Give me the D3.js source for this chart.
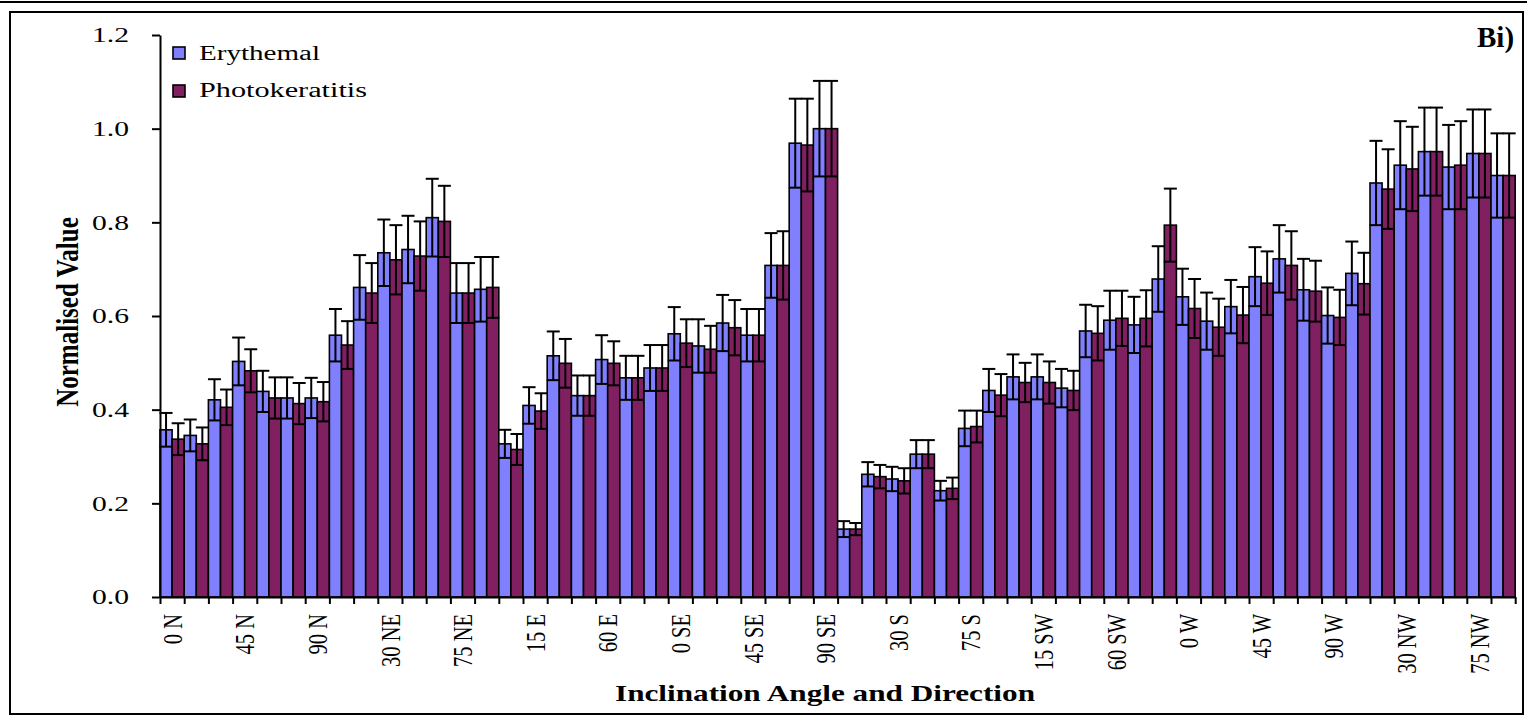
<!DOCTYPE html>
<html>
<head>
<meta charset="utf-8">
<script src="https://cdn.jsdelivr.net/npm/d3@7"></script>
<style>
  html, body { margin: 0; padding: 0; background: #fff; }
  svg { display: block; }
  svg text { font-family: 'Liberation Serif', 'Times New Roman', Times, serif; fill: #000; }
</style>
</head>
<body>
<svg id="chart" width="1527" height="720"></svg>
<script>
'use strict';

// categories: inclination angle x direction
var angles = [0, 15, 30, 45, 60, 75, 90];
var directions = ['N', 'NE', 'E', 'SE', 'S', 'SW', 'W', 'NW'];
var tickLabels = ['0 N', '45 N', '90 N', '30 NE', '75 NE', '15 E', '60 E', '0 SE', '45 SE', '90 SE',
  '30 S', '75 S', '15 SW', '60 SW', '0 W', '45 W', '90 W', '30 NW', '75 NW'];
var seriesNames = ['Erythemal', 'Photokeratitis'];
var yTicks = [0, 0.2, 0.4, 0.6, 0.8, 1.0, 1.2];

var erythemal = [
  0.357, 0.345, 0.421, 0.503, 0.439, 0.425, 0.425,
  0.559, 0.661, 0.735, 0.742, 0.810, 0.649, 0.657,
  0.327, 0.409, 0.515, 0.430, 0.507, 0.468, 0.489,
  0.562, 0.536, 0.585, 0.559, 0.708, 0.969, 1.000,
  0.145, 0.262, 0.252, 0.305, 0.227, 0.360, 0.441,
  0.470, 0.470, 0.446, 0.568, 0.591, 0.581, 0.679,
  0.641, 0.589, 0.620, 0.684, 0.722, 0.656, 0.601,
  0.691, 0.884, 0.922, 0.951, 0.918, 0.947, 0.900
];
var erythemalErr = [
  0.036, 0.034, 0.044, 0.051, 0.044, 0.044, 0.043,
  0.056, 0.069, 0.071, 0.072, 0.083, 0.064, 0.069,
  0.030, 0.039, 0.052, 0.043, 0.052, 0.047, 0.049,
  0.057, 0.057, 0.060, 0.056, 0.069, 0.095, 0.102,
  0.017, 0.026, 0.026, 0.030, 0.021, 0.038, 0.046,
  0.048, 0.048, 0.041, 0.056, 0.063, 0.060, 0.070,
  0.060, 0.061, 0.057, 0.063, 0.072, 0.066, 0.060,
  0.068, 0.090, 0.094, 0.094, 0.090, 0.094, 0.090
];
var photokeratitis = [
  0.337, 0.327, 0.405, 0.483, 0.425, 0.413, 0.417,
  0.538, 0.649, 0.720, 0.728, 0.802, 0.649, 0.661,
  0.315, 0.397, 0.499, 0.430, 0.499, 0.468, 0.489,
  0.542, 0.529, 0.575, 0.559, 0.708, 0.965, 1.000,
  0.145, 0.257, 0.248, 0.305, 0.232, 0.364, 0.431,
  0.458, 0.458, 0.441, 0.563, 0.595, 0.595, 0.794,
  0.616, 0.576, 0.602, 0.670, 0.708, 0.653, 0.597,
  0.669, 0.871, 0.914, 0.951, 0.922, 0.947, 0.900
];
var photokeratitisErr = [
  0.034, 0.035, 0.038, 0.046, 0.044, 0.044, 0.042,
  0.051, 0.064, 0.074, 0.074, 0.076, 0.064, 0.065,
  0.033, 0.038, 0.052, 0.043, 0.047, 0.047, 0.049,
  0.051, 0.050, 0.059, 0.056, 0.073, 0.099, 0.102,
  0.013, 0.025, 0.027, 0.030, 0.023, 0.034, 0.045,
  0.042, 0.045, 0.042, 0.058, 0.059, 0.060, 0.078,
  0.063, 0.061, 0.060, 0.068, 0.073, 0.065, 0.059,
  0.066, 0.085, 0.090, 0.094, 0.094, 0.094, 0.090
];

var categories = [];
directions.forEach(function(d) {
  angles.forEach(function(a) { categories.push(a + ' ' + d); });
});

var fontFamily = "'Liberation Serif', 'Times New Roman', Times, serif";
var colors = {Erythemal: '#8080ff', Photokeratitis: '#802060'};
var plot = {left: 160, right: 1515.2, top: 35, bottom: 597};
var stretch = 1.35; // the original picture is widened horizontally

var svg = d3.select('#chart').attr('font-family', fontFamily);

// frame
svg.append('line').attr('x1', 0).attr('x2', 1527).attr('y1', 2).attr('y2', 2)
  .attr('stroke', '#000').attr('stroke-width', 2);
svg.append('rect').attr('x', 10).attr('y', 12).attr('width', 1513).attr('height', 702)
  .attr('fill', 'none').attr('stroke', '#000').attr('stroke-width', 2);

// scales
var x = d3.scaleBand().domain(categories).range([plot.left, plot.right]).padding(0);
var xs = d3.scaleBand().domain(seriesNames).range([0, x.bandwidth()]);
var xi = d3.scaleLinear().domain([0, categories.length]).range([plot.left, plot.right]);
var y = d3.scaleLinear().domain([0, 1.2]).range([plot.bottom, plot.top]);

var rows = categories.map(function(c, i) {
  return {
    cat: c,
    values: [
      {s: 'Erythemal', v: erythemal[i], e: erythemalErr[i]},
      {s: 'Photokeratitis', v: photokeratitis[i], e: photokeratitisErr[i]}
    ]
  };
});

// bars
var groups = svg.append('g').selectAll('g')
  .data(rows)
  .enter().append('g')
    .attr('transform', function(d) { return 'translate(' + x(d.cat) + ',0)'; });

groups.selectAll('rect')
  .data(function(d) { return d.values; })
  .enter().append('rect')
    .attr('x', function(d) { return xs(d.s); })
    .attr('width', xs.bandwidth())
    .attr('y', function(d) { return y(d.v); })
    .attr('height', function(d) { return plot.bottom - y(d.v); })
    .attr('fill', function(d) { return colors[d.s]; })
    .attr('stroke', '#000')
    .attr('stroke-width', 1.6);

// error bars
var cap = 6.5;
var err = groups.selectAll('g.err')
  .data(function(d) { return d.values; })
  .enter().append('g')
    .attr('class', 'err')
    .attr('stroke', '#000')
    .attr('stroke-width', 2)
    .attr('transform', function(d) { return 'translate(' + (xs(d.s) + xs.bandwidth() / 2) + ',0)'; });
err.append('line')
  .attr('x1', 0).attr('x2', 0)
  .attr('y1', function(d) { return y(d.v - d.e); })
  .attr('y2', function(d) { return y(d.v + d.e); });
err.append('line')
  .attr('x1', -cap).attr('x2', cap)
  .attr('y1', function(d) { return y(d.v + d.e); })
  .attr('y2', function(d) { return y(d.v + d.e); });
err.append('line')
  .attr('x1', -cap).attr('x2', cap)
  .attr('y1', function(d) { return y(d.v - d.e); })
  .attr('y2', function(d) { return y(d.v - d.e); });

// y axis
var yAxis = svg.append('g')
  .attr('transform', 'translate(' + plot.left + ',0)')
  .call(d3.axisLeft(y).tickValues(yTicks).tickSize(8).tickSizeOuter(0).tickPadding(23)
    .tickFormat(d3.format('.1f')));
yAxis.attr('font-family', fontFamily);
yAxis.select('.domain').attr('stroke', '#000').attr('stroke-width', 2);
yAxis.selectAll('.tick line').attr('stroke', '#000').attr('stroke-width', 2);
yAxis.selectAll('.tick text')
  .attr('font-size', 20)
  .attr('fill', '#000')
  .attr('dy', '0.34em')
  .attr('textLength', 37)
  .attr('lengthAdjust', 'spacingAndGlyphs');

// x axis (ticks at category boundaries)
var xAxis = svg.append('g')
  .attr('transform', 'translate(0,' + plot.bottom + ')')
  .call(d3.axisBottom(xi).tickValues(d3.range(categories.length + 1)).tickSize(7)
    .tickSizeOuter(0).tickFormat(''));
xAxis.select('.domain').attr('stroke', '#000').attr('stroke-width', 2);
xAxis.selectAll('.tick line').attr('stroke', '#000').attr('stroke-width', 2);

// category labels, rotated
svg.append('g').selectAll('g')
  .data(tickLabels)
  .enter().append('g')
    .attr('transform', function(d) {
      return 'translate(' + (x(d) + x.bandwidth() / 2) + ',614) scale(' + stretch + ',1) rotate(-90)';
    })
  .append('text')
    .attr('text-anchor', 'end')
    .attr('dy', '0.35em')
    .attr('font-size', 20.5)
    .text(function(d) { return d; });

// axis titles
svg.append('g')
  .attr('transform', 'translate(67,312) scale(1.3,1) rotate(-90)')
  .append('text')
    .attr('text-anchor', 'middle')
    .attr('dy', '0.35em')
    .attr('font-size', 25)
    .attr('font-weight', 'bold')
    .text('Normalised Value');

svg.append('text')
  .attr('x', 615).attr('y', 701)
  .attr('font-size', 24)
  .attr('font-weight', 'bold')
  .attr('textLength', 420)
  .attr('lengthAdjust', 'spacingAndGlyphs')
  .text('Inclination Angle and Direction');

// legend
var legend = svg.append('g').selectAll('g')
  .data([
    {name: 'Erythemal', ry: 47, base: 60, len: 121},
    {name: 'Photokeratitis', ry: 85, base: 97, len: 168}
  ])
  .enter().append('g');
legend.append('rect')
  .attr('x', 173).attr('y', function(d) { return d.ry; })
  .attr('width', 12).attr('height', 12)
  .attr('fill', function(d) { return colors[d.name]; })
  .attr('stroke', '#000').attr('stroke-width', 1.6);
legend.append('text')
  .attr('x', 199).attr('y', function(d) { return d.base; })
  .attr('font-size', 20)
  .attr('textLength', function(d) { return d.len; })
  .attr('lengthAdjust', 'spacingAndGlyphs')
  .text(function(d) { return d.name; });

// panel label, cut by the frame
svg.append('clipPath').attr('id', 'frameClip')
  .append('rect').attr('x', 10).attr('y', 12).attr('width', 1512).attr('height', 702);
svg.append('text')
  .attr('clip-path', 'url(#frameClip)')
  .attr('x', 1477).attr('y', 47)
  .attr('font-size', 29)
  .attr('font-weight', 'bold')
  .text('Bi)');
</script>
</body>
</html>
